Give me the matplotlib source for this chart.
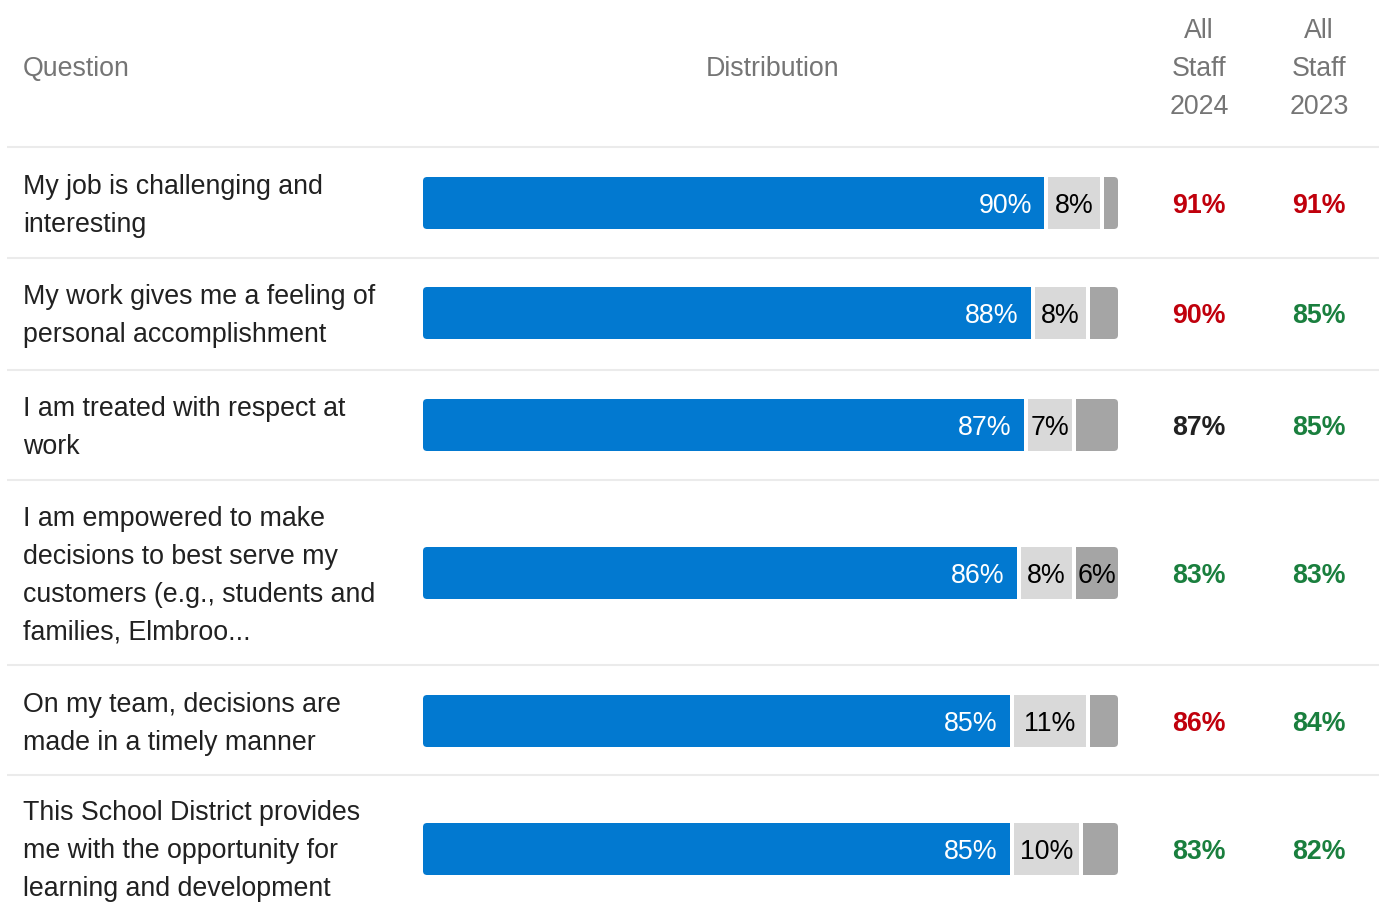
import matplotlib.pyplot as plt
from matplotlib.patches import FancyBboxPatch

plt.rcParams['font.family'] = ['Liberation Sans', 'DejaVu Sans']

questions = [
    "My job is challenging and\ninteresting",
    "My work gives me a feeling of\npersonal accomplishment",
    "I am treated with respect at\nwork",
    "I am empowered to make\ndecisions to best serve my\ncustomers (e.g., students and\nfamilies, Elmbroo...",
    "On my team, decisions are\nmade in a timely manner",
    "This School District provides\nme with the opportunity for\nlearning and development",
]
favorable = [90, 88, 87, 86, 85, 85]
neutral = [8, 8, 7, 8, 11, 10]
unfavorable = [2, 4, 6, 6, 4, 5]
unfav_labels = ["", "", "", "6%", "", ""]
staff_2024 = [91, 90, 87, 83, 86, 83]
staff_2023 = [91, 85, 85, 83, 84, 82]
colors_2024 = ["red", "red", "black", "green", "red", "green"]
colors_2023 = ["red", "green", "green", "green", "green", "green"]
headers_cols = ["All\nStaff\n2024", "All\nStaff\n2023"]

W, H = 1381, 915
row_centers = [203, 313, 425, 573, 721, 849]
separators = [147, 258, 370, 480, 665, 775]
line_h = 38
bar_x0, bar_w, bar_h = 423, 695, 52
px = bar_w / 100.0
gap = 4 / px
fs = 19.3

blue = '#0279d0'
light = '#d9d9d9'
dark = '#a5a5a5'
txt = '#212121'
grey_txt = '#757575'
cmap = {"red": '#c0000c', "green": '#1a7f3e', "black": txt}

fig = plt.figure(figsize=(W / 100, H / 100), dpi=100)
ax = fig.add_axes([0, 0, 1, 1])
ax.set_xlim(0, W)
ax.set_ylim(H, 0)
ax.axis('off')

bx = fig.add_axes([bar_x0 / W, 0, bar_w / W, 1])
bx.set_xlim(0, 100)
bx.set_ylim(H, 0)
bx.axis('off')

# header
ax.text(23, 66 + 10, "Question", fontsize=fs, color=grey_txt, va='baseline', ha='left')
ax.text(bar_x0 + bar_w / 2 + 2, 66 + 10, "Distribution", fontsize=fs, color=grey_txt,
        va='baseline', ha='center')
for cx, head in zip([1199, 1319], headers_cols):
    for j, part in enumerate(head.split("\n")):
        ax.text(cx, 28 + j * line_h + 10, part, fontsize=fs, color=grey_txt,
                va='baseline', ha='center')

for y in separators:
    ax.plot([7, 1379], [y, y], color='#ebebeb', lw=1.5, solid_capstyle='butt')

for i, yc in enumerate(row_centers):
    lines = questions[i].split("\n")
    top = yc - (len(lines) - 1) / 2 * line_h
    for j, ln in enumerate(lines):
        ax.text(23, top + j * line_h + 9.5, ln, fontsize=fs, color=txt,
                va='baseline', ha='left')

    # rounded outline used to clip the stacked segments
    clip = FancyBboxPatch((0, yc - bar_h / 2), 100, bar_h,
                          boxstyle="round,pad=0,rounding_size=0.6",
                          mutation_aspect=4 / 0.6, facecolor='none', edgecolor='none')
    bx.add_patch(clip)

    segs = [favorable[i], neutral[i], unfavorable[i]]
    cols = [blue, light, dark]
    left = 0
    for k, (v, c) in enumerate(zip(segs, cols)):
        w = v - gap if k < 2 else 100 - left
        b = bx.barh(yc, w, left=left, height=bar_h, color=c, linewidth=0)
        b[0].set_clip_path(clip)
        if k == 0:
            bx.text(left + w - 12 / px, yc + 10, f"{v}%", fontsize=fs, color='white',
                    ha='right', va='baseline')
        elif k == 1:
            bx.text(left + w / 2, yc + 10, f"{v}%", fontsize=fs, color='black',
                    ha='center', va='baseline')
        elif unfav_labels[i]:
            bx.text(left + w / 2, yc + 10, unfav_labels[i], fontsize=fs, color='black',
                    ha='center', va='baseline')
        left += v

    ax.text(1199, yc + 10, f"{staff_2024[i]}%", fontsize=fs, fontweight='bold',
            color=cmap[colors_2024[i]], ha='center', va='baseline')
    ax.text(1319, yc + 10, f"{staff_2023[i]}%", fontsize=fs, fontweight='bold',
            color=cmap[colors_2023[i]], ha='center', va='baseline')

fig.savefig("out.png", dpi=100, facecolor='white')
